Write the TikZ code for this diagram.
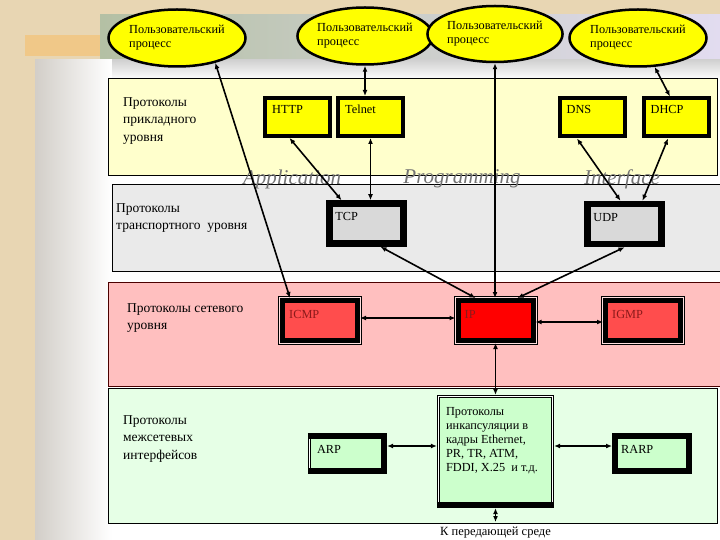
\documentclass[tikz,border=0pt]{standalone}
\usepackage{fontspec}
\setmainfont{Liberation Serif}
\usetikzlibrary{positioning, shapes.geometric, arrows.meta}

\definecolor{fundo}{HTML}{E8D6B3}
\definecolor{faixa}{HTML}{F0C888}
\definecolor{painel}{HTML}{D2CEC8}
\definecolor{bannerA}{HTML}{B4C0A4}
\definecolor{bannerB}{HTML}{DCD4A8}
\definecolor{bannerC}{HTML}{E2DCF0}
\definecolor{aplic}{HTML}{FFFFCC}
\definecolor{transp}{HTML}{EAEAEA}
\definecolor{rede}{HTML}{FFBFBF}
\definecolor{interf}{HTML}{E6FFE6}
\definecolor{amarelo}{HTML}{FFFF00}
\definecolor{cinzabox}{HTML}{D9D9D9}
\definecolor{vermclaro}{HTML}{FF4D4D}
\definecolor{vermelho}{HTML}{FF0000}
\definecolor{verdebox}{HTML}{CCFFCC}
\definecolor{textorede}{HTML}{8B1A1A}

\tikzset{
  processo/.style={ellipse, draw, line width=2.5pt, fill=amarelo, minimum width=137pt,
    minimum height=57pt, inner sep=0pt, align=left, font=\fontsize{12.3}{14}\selectfont},
  camada/.style={draw, line width=0.8pt},
  rotulo/.style={anchor=north west, inner sep=0pt, align=left, font=\fontsize{13.5}{17.5}\selectfont},
  api/.style={font=\fontsize{21}{21}\selectfont\itshape, text=black!55},
  txt/.style={anchor=north west, inner sep=0pt, xshift=9pt, yshift=-9pt, font=\fontsize{12.3}{14}\selectfont},
  protapl/.style={draw, line width=4pt, fill=amarelo, minimum width=65pt, minimum height=38pt},
  prottr/.style={draw, line width=6.5pt, fill=cinzabox, minimum width=74pt, minimum height=40pt},
  protrede/.style={draw, line width=5pt, fill=vermclaro, minimum width=75pt, minimum height=40pt,
    preaction={draw=black, line width=9pt}, preaction={draw=rede!50!white, line width=7pt}},
  protint/.style={draw, line width=6pt, fill=verdebox, minimum width=74pt, minimum height=35pt},
  duplo/.style={draw, line width=0.8pt, double=white, double distance=1.6pt, outer sep=1.6pt, fill=verdebox},
  seta/.style={{Latex[length=6pt,width=5pt]}-{Latex[length=6pt,width=5pt]}, line width=1.6pt}
}

\begin{document}
\begin{tikzpicture}[x=1pt, y=-1pt]
   \useasboundingbox (0,0) rectangle (720,540);

   % Fundo
   \fill[fundo] (0,0) rectangle (720,540);
   \fill[faixa] (25,35) rectangle (100,56);
   \shade[left color=bannerA, middle color=bannerB, right color=bannerC] (100,15) rectangle (720,60);
   \shade[left color=painel, right color=white] (35,60) rectangle (112,540);
   \shade[top color=black!18, bottom color=white] (112,60) rectangle (720,80);
   \fill[white] (112,80) rectangle (720,540);

   % Camadas
   \draw[camada, fill=aplic] (108,78) rectangle (717,175);
   \draw[camada, fill=transp] (112,184) rectangle (720,271);
   \draw[camada, fill=rede, draw=red!30!black] (108,282) rectangle (720,386);
   \draw[camada, fill=interf] (108,388) rectangle (717,523);

   \node[rotulo] (rapl) at (123,97) {Протоколы\\прикладного\\уровня};
   \node[rotulo] (rtransp) at (116,203) {Протоколы\\транспортного~~уровня};
   \node[rotulo] (rrede) at (127,303) {Протоколы сетевого\\уровня};
   \node[rotulo] (rinterf) at (123,415) {Протоколы\\межсетевых\\интерфейсов};

   \node[api] (tapl) at (292,179) {Application};
   \node[api] (tprog) at (462,179) {Programming};
   \node[api] (tinterf) at (622,179) {Interface};

   % Processos
   \node[processo] (e1) at (177,38) {Пользовательский\\процесс};
   \node[processo, minimum width=128pt] (e2) at (365,36) {Пользовательский\\процесс};
   \node[processo, minimum width=123pt, minimum height=56pt] (e3) at (495,34) {Пользовательский\\процесс};
   \node[processo] (e4) at (638,38) {Пользовательский\\процесс};

   % Protocolos
   \node[protapl, label={[txt]north west:HTTP}] (http) at (297.5,117) {};
   \node[protapl, right=4pt of http, label={[txt]north west:Telnet}] (telnet) {};
   \node[protapl, label={[txt]north west:DNS}] (dns) at (592,117.5) {};
   \node[protapl, right=15pt of dns, label={[txt]north west:DHCP}] (dhcp) {};

   \node[prottr, label={[txt, yshift=-3pt]north west:TCP}] (tcp) at (366.5,223.5) {};
   \node[prottr, label={[txt, yshift=-3pt]north west:UDP}] (udp) at (624.5,224) {};

   \node[protrede, label={[txt, yshift=-3pt, text=textorede]north west:ICMP}] (icmp) at (320,320.5) {};
   \node[protrede, fill=vermelho, label={[txt, yshift=-3pt, text=textorede]north west:IP}] (ip) at (495.5,320.5) {};
   \node[protrede, label={[txt, yshift=-3pt, text=textorede]north west:IGMP}] (igmp) at (643,320.5) {};

   \node[duplo, minimum width=114pt, minimum height=110pt,
     label={[txt, yshift=-3pt, align=left]north west:{Протоколы\\инкапсуляции в\\кадры Ethernet,\\PR, TR, ATM,\\FDDI, X.25~~и т.д.}}] (encap) at (495.5,451.5) {};
   \node[duplo, minimum width=76pt, minimum height=38pt, label={[txt, yshift=-3pt]north west:ARP}] (arp) at (347.5,453.5) {};
   \node[protint, label={[txt, yshift=-3pt]north west:RARP}] (rarp) at (652,453.5) {};
   \draw[line width=6pt] ([yshift=3pt]encap.south west) -- ([yshift=3pt]encap.south east);
   \draw[line width=6pt] ([yshift=-3pt]arp.north west) -- ([xshift=-3pt,yshift=-3pt]arp.north east)
     -- ([xshift=-3pt,yshift=3pt]arp.south east) -- ([yshift=3pt]arp.south west);

   \coordinate (meio) at (495.5,522);
   \node[below=5pt of meio, inner sep=0pt, font=\fontsize{12.5}{14}\selectfont] (tmeio) {К передающей среде};

   % Conexões
   \path[seta]
    (e1.-33) edge ([xshift=10pt]icmp.north west)
    (e2.south) edge (telnet.north -| e2.south)
    ([xshift=-8pt]http.south) edge ([xshift=-25pt]tcp.north)
    (telnet.south) edge (telnet.south |- tcp.north)
    (e3.south) edge (e3.south |- ip.north)
    (e4.-60) edge ([xshift=-6pt]dhcp.north)
    ([xshift=-15pt]dns.south) edge ([xshift=-4pt]udp.north)
    ([xshift=-8pt]dhcp.south) edge ([xshift=18pt]udp.north)
    ([xshift=14pt]tcp.south) edge ([xshift=-20pt]ip.north)
    (udp.south) edge ([xshift=22pt]ip.north)
    ([yshift=2.5pt]ip.west) edge ([yshift=2.5pt]icmp.east)
    ([yshift=-1.5pt]ip.east) edge ([yshift=-1.5pt]igmp.west)
    (ip.south) edge (encap.north)
    (encap.west |- 0,446) edge (arp.east |- 0,446)
    (encap.east |- 0,446) edge (rarp.west |- 0,446)
    (encap.south) edge (meio);
\end{tikzpicture}
\end{document}
